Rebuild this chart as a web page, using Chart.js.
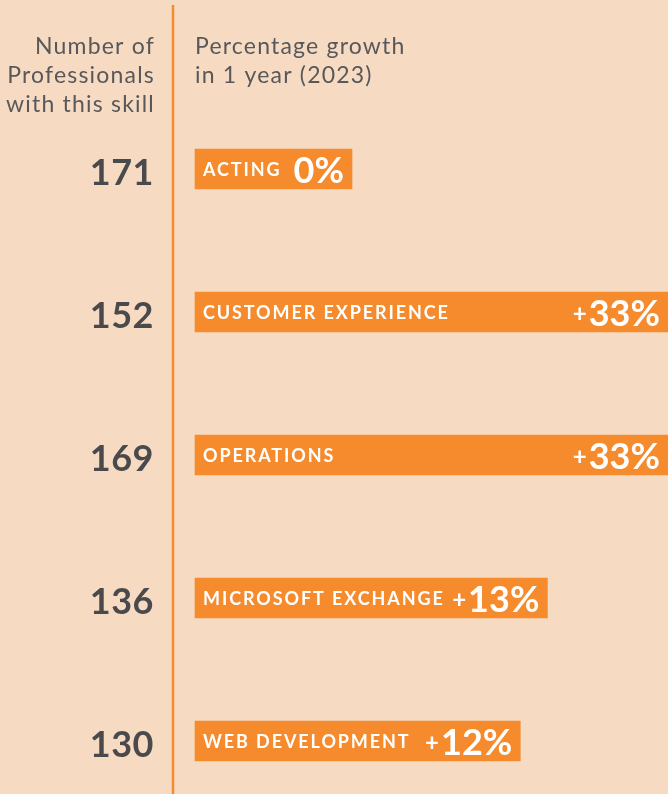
<!DOCTYPE html>
<html>
<head>
<meta charset="utf-8">
<script src="https://cdn.jsdelivr.net/npm/chart.js@4"></script>
<style>
  html, body { margin: 0; padding: 0; background: #f6dbc2; }
  #wrap { width: 668px; height: 794px; position: relative; }
</style>
</head>
<body>
<div id="wrap"><canvas id="skillsChart" width="668" height="794"></canvas></div>
<script>
// Data
const skills = ['ACTING', 'CUSTOMER EXPERIENCE', 'OPERATIONS', 'MICROSOFT EXCHANGE', 'WEB DEVELOPMENT'];
const growth = [0, 33, 33, 13, 12];
const professionals = [171, 152, 169, 136, 130];
const leftHeader = ['Number of', 'Professionals', 'with this skill'];
const rightHeader = ['Percentage growth', 'in 1 year (2023)'];

const orange = '#f58b2c';
const grey = '#58585a';
const dark = '#4a4a4c';
const fontFamily = 'Lato, "Open Sans", sans-serif';

// Draws the divider, headers, counts and the texts inside the bars
const textPlugin = {
    id: 'textPlugin',
    beforeDatasetsDraw(chart) {
        const ctx = chart.ctx;
        ctx.save();
        ctx.strokeStyle = orange;
        ctx.lineWidth = 2.5;
        ctx.beginPath();
        ctx.moveTo(173, 5);
        ctx.lineTo(173, chart.height);
        ctx.stroke();

        ctx.fillStyle = grey;
        ctx.font = '23px ' + fontFamily;
        ctx.letterSpacing = '1.2px';
        ctx.textBaseline = 'alphabetic';
        ctx.textAlign = 'right';
        leftHeader.forEach((line, i) => ctx.fillText(line, 155, 54 + i * 29));
        ctx.textAlign = 'left';
        rightHeader.forEach((line, i) => ctx.fillText(line, 195, 54 + i * 29));
        ctx.restore();
    },
    afterDatasetsDraw(chart) {
        const ctx = chart.ctx;
        const meta = chart.getDatasetMeta(0);
        ctx.save();
        ctx.textBaseline = 'middle';
        meta.data.forEach((bar, i) => {
            const left = Math.min(bar.base, bar.x);
            const right = Math.min(Math.max(bar.base, bar.x), chart.width);

            // count on the left
            ctx.fillStyle = dark;
            ctx.font = 'bold 36px ' + fontFamily;
            ctx.letterSpacing = '0.5px';
            ctx.textAlign = 'right';
            ctx.fillText(professionals[i], 154, bar.y + 4);

            // skill name
            ctx.fillStyle = '#ffffff';
            ctx.font = 'bold 18px ' + fontFamily;
            ctx.letterSpacing = '1.9px';
            ctx.textAlign = 'left';
            ctx.fillText(skills[i], left + 8, bar.y + 1);

            // growth value, right aligned in the bar
            ctx.textAlign = 'right';
            ctx.font = 'bold 36px ' + fontFamily;
            ctx.letterSpacing = '0px';
            const num = growth[i] + '%';
            const x = right - 8;
            ctx.fillText(num, x, bar.y + 2);
            if (growth[i] > 0) {
                const w = ctx.measureText(num).width;
                ctx.font = 'bold 24px ' + fontFamily;
                ctx.fillText('+', x - w - 2, bar.y + 2);
            }
        });
        ctx.restore();
    }
};

const ctx = document.getElementById('skillsChart').getContext('2d');
const skillsChart = new Chart(ctx, {
    type: 'bar',
    data: {
        labels: skills,
        datasets: [{
            label: 'Percentage growth',
            data: growth,
            backgroundColor: orange,
            barThickness: 40,
            minBarLength: 157,
            borderSkipped: false,
            clip: false
        }]
    },
    options: {
        indexAxis: 'y',
        responsive: false,
        animation: false,
        layout: { padding: { left: 195, top: 169, bottom: 53, right: 0 } },
        plugins: {
            legend: { display: false },
            tooltip: { enabled: false }
        },
        scales: {
            x: { display: false, min: 0, max: 17.45 },
            y: { display: false, offset: false }
        }
    },
    plugins: [textPlugin]
});
</script>
</body>
</html>
